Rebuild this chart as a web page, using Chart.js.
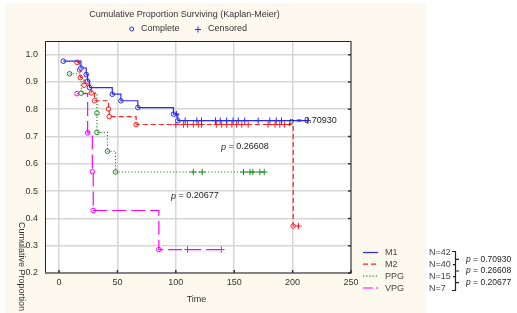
<!DOCTYPE html>
<html>
<head>
<meta charset="utf-8">
<script src="https://cdn.jsdelivr.net/npm/chart.js@4/dist/chart.umd.min.js"></script>
<style>
  html, body { margin: 0; padding: 0; background: #fff; }
  canvas { display: block; }
</style>
</head>
<body>
<canvas id="kmChart" width="517" height="313"></canvas>
<script>
// tick labels
const xTicks = [0, 50, 100, 150, 200, 250];
const yTicks = [0.2, 0.3, 0.4, 0.5, 0.6, 0.7, 0.8, 0.9, 1.0];

// groups
const groupNames = ['M1', 'M2', 'PPG', 'VPG'];
const groupN = [42, 40, 15, 7];
const pValues = ['0.70930', '0.26608', '0.20677'];

// event times (complete) and survival after each event
const m1Times = [3.7, 18.8, 23.3, 24.4, 26.2, 45.6, 53, 67.5, 98, 101.7];
const m1Surv = [0.976, 0.951, 0.927, 0.903, 0.879, 0.855, 0.831, 0.806, 0.782, 0.758];
const m1Censored = [100.5, 108, 118, 122, 134, 138, 143.5, 149, 153.5, 159, 170.5, 180.5, 186, 190.5, 213];

const m2Times = [15.4, 17.6, 18.2, 21.4, 27.6, 30.4, 42.4, 43, 66, 200.5];
const m2Surv = [0.972, 0.944, 0.916, 0.888, 0.860, 0.831, 0.801, 0.773, 0.744, 0.372];
const m2Censored = [100, 106.5, 110, 115, 119.3, 122, 135, 139.3, 143.6, 148, 152, 156.5, 162, 179, 185, 189, 193, 205];

const ppgTimes = [9, 19, 32.5, 32.5, 41.5, 48.4];
const ppgSurv = [0.930, 0.859, 0.786, 0.715, 0.646, 0.570];
const ppgCensored = [115, 122.6, 158, 163.5, 166, 172, 175.7];

const vpgTimes = [15.4, 24.5, 28.5, 29.3, 85.5];
const vpgSurv = [0.857, 0.714, 0.571, 0.429, 0.286];
const vpgCensored = [110, 139];

const colors = ['#2b2bf0', '#ff1f1f', '#1c8c1c', '#ff00ff'];
const dashes = [[], [5, 3], [1.2, 2], [14, 5]];
const FONT = 'Liberation Sans, Arial, sans-serif';

function levelAt(times, surv, t) {
    let s = 1;
    for (let i = 0; i < times.length; i++) {
        if (times[i] <= t) s = surv[i];
    }
    return s;
}

function buildSets(times, surv, cens, idx) {
    const line = times.map((t, i) => ({ x: t, y: surv[i] }));
    const end = Math.max(...cens);
    if (end > times[times.length - 1]) line.push({ x: end, y: surv[surv.length - 1] });
    return [
        {
            data: line, showLine: true, stepped: true, pointRadius: 0,
            borderColor: colors[idx], borderWidth: 1.2, borderDash: dashes[idx]
        },
        {
            data: times.map((t, i) => ({ x: t, y: surv[i] })), showLine: false,
            pointStyle: 'circle', pointRadius: 2.3, pointBorderWidth: 1,
            pointBorderColor: colors[idx], pointBackgroundColor: '#fff'
        },
        {
            data: cens.map(t => ({ x: t, y: levelAt(times, surv, t) })), showLine: false,
            pointStyle: 'cross', pointRadius: 3.2, pointBorderWidth: 1,
            pointBorderColor: colors[idx]
        }
    ];
}

const datasets = [
    ...buildSets(m1Times, m1Surv, m1Censored, 0),
    ...buildSets(m2Times, m2Surv, m2Censored, 1),
    ...buildSets(ppgTimes, ppgSurv, ppgCensored, 2),
    ...buildSets(vpgTimes, vpgSurv, vpgCensored, 3)
];

function drawP(ctx, x, y, value, size) {
    ctx.font = `italic ${size}px ${FONT}`;
    ctx.fillText('p', x, y);
    const w = ctx.measureText('p').width;
    ctx.font = `${size}px ${FONT}`;
    ctx.fillText(' = ' + value, x + w, y);
}

const decor = {
    id: 'decor',
    beforeDraw(chart) {
        const ctx = chart.ctx;
        const a = chart.chartArea;
        ctx.save();
        ctx.fillStyle = '#ffffff';
        ctx.fillRect(0, 0, chart.width, chart.height);
        ctx.fillStyle = '#fdf9ee';
        ctx.fillRect(5, 3, 421, 310);
        ctx.fillStyle = '#ffffff';
        ctx.fillRect(a.left, a.top, a.right - a.left, a.bottom - a.top);
        ctx.restore();
    },
    afterDraw(chart) {
        const ctx = chart.ctx;
        const a = chart.chartArea;
        const xs = chart.scales.x, ys = chart.scales.y;
        ctx.save();
        // frame
        ctx.strokeStyle = '#222';
        ctx.lineWidth = 1;
        ctx.beginPath();
        ctx.moveTo(a.left + 0.5, a.bottom);
        ctx.lineTo(a.left + 0.5, a.top + 0.5);
        ctx.lineTo(a.right, a.top + 0.5);
        ctx.stroke();
        ctx.strokeStyle = '#666';
        ctx.lineWidth = 1.5;
        ctx.beginPath();
        ctx.moveTo(a.left, a.bottom);
        ctx.lineTo(a.right, a.bottom);
        ctx.lineTo(a.right, a.top);
        ctx.stroke();
        ctx.strokeStyle = '#333';
        ctx.lineWidth = 1.5;
        ctx.beginPath();
        yTicks.forEach(v => {
            const y = ys.getPixelForValue(v);
            ctx.moveTo(a.right - 3, y); ctx.lineTo(a.right, y);
        });
        xTicks.forEach(v => {
            const x = xs.getPixelForValue(v);
            ctx.moveTo(x, a.bottom - 3); ctx.lineTo(x, a.bottom);
        });
        ctx.stroke();

        // titles
        ctx.fillStyle = '#333';
        ctx.textBaseline = 'middle';
        ctx.textAlign = 'center';
        ctx.font = `9px ${FONT}`;
        ctx.fillText('Cumulative Proportion Surviving (Kaplan-Meier)', 184.5, 15);
        ctx.fillText('Time', 196.5, 300);
        ctx.save();
        ctx.translate(21, 222);
        ctx.rotate(Math.PI / 2);
        ctx.textAlign = 'left';
        ctx.fillText('Cumulative Proportion', 0, 0);
        ctx.restore();

        // complete / censored key
        ctx.textAlign = 'left';
        ctx.fillText('Complete', 141, 29);
        ctx.fillText('Censored', 208, 29);
        ctx.strokeStyle = '#2b2bf0';
        ctx.lineWidth = 1;
        ctx.beginPath();
        ctx.arc(131.7, 29, 2, 0, Math.PI * 2);
        ctx.stroke();
        ctx.beginPath();
        ctx.moveTo(195, 29.5); ctx.lineTo(201, 29.5);
        ctx.moveTo(198, 26.5); ctx.lineTo(198, 32.5);
        ctx.stroke();

        // p annotations in plot
        ctx.fillStyle = '#222';
        drawP(ctx, 289, 121, pValues[0], 9);
        drawP(ctx, 221, 147, pValues[1], 9);
        drawP(ctx, 171, 196, pValues[2], 9);

        // series legend
        const rows = [253, 264.7, 276.6, 288.5];
        groupNames.forEach((name, i) => {
            ctx.strokeStyle = colors[i];
            ctx.lineWidth = 1.2;
            ctx.setLineDash(dashes[i].length ? (i === 3 ? [10, 3] : dashes[i]) : []);
            ctx.beginPath();
            ctx.moveTo(363, rows[i] - 0.5); ctx.lineTo(378, rows[i] - 0.5);
            ctx.stroke();
            ctx.setLineDash([]);
            ctx.fillStyle = '#444';
            ctx.font = `9px ${FONT}`;
            ctx.fillText(name, 385, rows[i]);
            ctx.fillText('N=' + groupN[i], 429, rows[i]);
        });

        // bracket
        ctx.strokeStyle = '#222';
        ctx.lineWidth = 1.2;
        ctx.beginPath();
        ctx.moveTo(452, 251.5); ctx.lineTo(455.5, 251.5); ctx.lineTo(455.5, 290.5); ctx.lineTo(452, 290.5);
        [259.3, 271, 282.7].forEach(y => { ctx.moveTo(455.5, y); ctx.lineTo(459, y); });
        [264.7, 276.6].forEach(y => { ctx.moveTo(453, y); ctx.lineTo(455.5, y); });
        ctx.stroke();
        ctx.fillStyle = '#222';
        drawP(ctx, 466, 259.3, pValues[0], 8.5);
        drawP(ctx, 466, 271, pValues[1], 8.5);
        drawP(ctx, 466, 282.7, pValues[2], 8.5);
        ctx.restore();
    }
};

new Chart(document.getElementById('kmChart'), {
    type: 'scatter',
    data: { datasets: datasets },
    options: {
        responsive: false,
        animation: false,
        layout: { padding: { left: 0, top: 41, right: 166, bottom: 0 } },
        plugins: { legend: { display: false }, tooltip: { enabled: false } },
        scales: {
            x: {
                type: 'linear', min: -12, max: 250,
                afterBuildTicks: s => { s.ticks = xTicks.map(v => ({ value: v })); },
                afterFit: s => { s.height = 40; },
                ticks: { font: { family: FONT, size: 9 }, color: '#333', padding: 4, maxRotation: 0, autoSkip: false },
                grid: { color: '#d6d6d6', lineWidth: 1.5, drawTicks: false },
                border: { display: false }
            },
            y: {
                type: 'linear', min: 0.2, max: 1.05,
                afterBuildTicks: s => { s.ticks = yTicks.map(v => ({ value: v })); },
                afterFit: s => { s.width = 45; },
                ticks: { font: { family: FONT, size: 9 }, color: '#333', padding: 7, autoSkip: false,
                         callback: v => v.toFixed(1) },
                grid: { color: '#d6d6d6', lineWidth: 1.5, drawTicks: false },
                border: { display: false }
            }
        }
    },
    plugins: [decor]
});
</script>
</body>
</html>
